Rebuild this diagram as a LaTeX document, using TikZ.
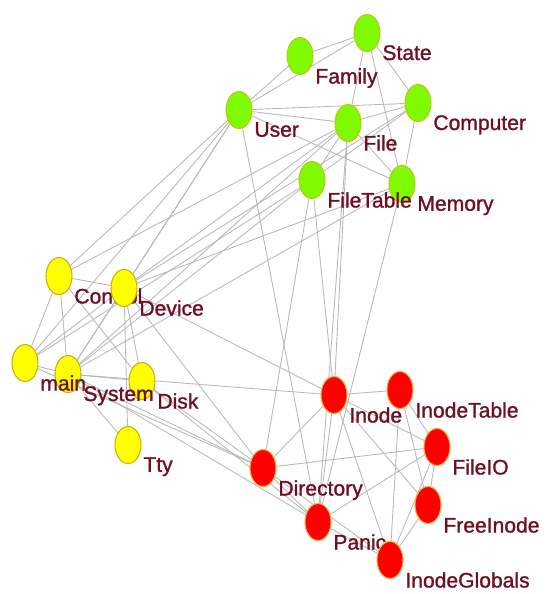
\documentclass[tikz,border=0pt]{standalone}
\usepackage{fontspec}
\setmainfont{Liberation Sans}
\newfontfamily\lblfont[FakeBold=1.2]{Liberation Sans}
\usetikzlibrary{shapes.geometric,backgrounds}
\definecolor{nodegreen}{RGB}{127,250,0}
\definecolor{rimgreen}{RGB}{190,200,20}
\definecolor{nodeyellow}{RGB}{255,255,0}
\definecolor{rimyellow}{RGB}{200,175,20}
\definecolor{nodered}{RGB}{255,0,0}
\definecolor{rimred}{RGB}{255,170,60}
\definecolor{labelred}{RGB}{110,15,35}
\definecolor{edgegray}{RGB}{185,185,185}
\begin{document}
\begin{tikzpicture}[x=0.02cm, y=-0.02cm, font=\lblfont\fontsize{12}{14}\selectfont, line join=round, line cap=round,
  vtx/.style={ellipse, minimum width=0.52cm, minimum height=0.74cm, inner sep=0pt, line width=0.6pt},
  grn/.style={vtx, fill=nodegreen, draw=rimgreen},
  ylw/.style={vtx, fill=nodeyellow, draw=rimyellow},
  rd/.style={vtx, fill=nodered, draw=rimred},
  lbl/.style={text=labelred, inner sep=0pt, xshift=2.3pt, yshift=-0.5pt},
  edge/.style={draw=edgegray, line width=0.5pt}]
\useasboundingbox (0,0) rectangle (546,594);
\node[grn, label={[lbl]-45:State}] (state) at (367,33) {};
\node[grn, label={[lbl]-45:Family}] (family) at (300,56) {};
\node[grn, label={[lbl]-45:User}] (user) at (239,110) {};
\node[grn, label={[lbl]-45:File}] (file) at (348,123) {};
\node[grn, label={[lbl]-45:Computer}] (computer) at (418,103) {};
\node[grn, label={[lbl]-45:Memory}] (memory) at (402,184) {};
\node[grn, label={[lbl]-45:FileTable}] (filetable) at (312,180) {};
\node[ylw, label={[lbl]-45:Control}] (control) at (59,276) {};
\node[ylw, label={[lbl]-45:Device}] (device) at (124,288) {};
\node[ylw, label={[lbl]-45:Disk}] (disk) at (142,381) {};
\node[ylw, label={[lbl]-45:System}] (system) at (68,374) {};
\node[ylw, label={[lbl]-45:main}] (main) at (25,363) {};
\node[ylw, label={[lbl]-45:Tty}] (tty) at (128,445) {};
\node[rd, label={[lbl]-45:Inode}] (inode) at (334,395) {};
\node[rd, label={[lbl]-45:InodeTable}] (inodetable) at (400,390) {};
\node[rd, label={[lbl]-45:FileIO}] (fileio) at (437,447) {};
\node[rd, label={[lbl]-45:Directory}] (directory) at (263,468) {};
\node[rd, label={[lbl]-45:Panic}] (panic) at (318,522) {};
\node[rd, label={[lbl]-45:FreeInode}] (freeinode) at (428,505) {};
\node[rd, label={[lbl]-45:InodeGlobals}] (inodeglobals) at (390,560) {};
\begin{scope}[on background layer]
\foreach \a/\b in {state/family, state/user, family/user, state/file, state/computer, state/memory,
  user/computer, user/file, user/memory, file/computer, file/memory, computer/memory,
  file/filetable, computer/filetable,
  control/main, control/system, control/disk, control/device, device/system, device/main,
  device/disk, device/tty, main/system, system/disk, system/tty,
  user/control, user/device, user/system, user/main, control/file, device/file, device/computer,
  device/memory, system/filetable, system/memory, system/file, main/filetable,
  system/inode, device/inode, device/directory, system/directory, disk/directory, system/panic,
  main/directory, disk/panic,
  user/panic, filetable/inode, file/inode, file/panic, filetable/directory, memory/panic,
  inode/inodetable, inode/fileio, inode/freeinode, inode/inodeglobals, inode/directory, inode/panic,
  inodetable/fileio, inodetable/freeinode, inodetable/inodeglobals, fileio/freeinode,
  fileio/inodeglobals, fileio/directory, fileio/panic, freeinode/inodeglobals,
  panic/inodeglobals, directory/panic, directory/inodeglobals}
  \draw[edge] (\a) -- (\b);
\end{scope}
\end{tikzpicture}
\end{document}
